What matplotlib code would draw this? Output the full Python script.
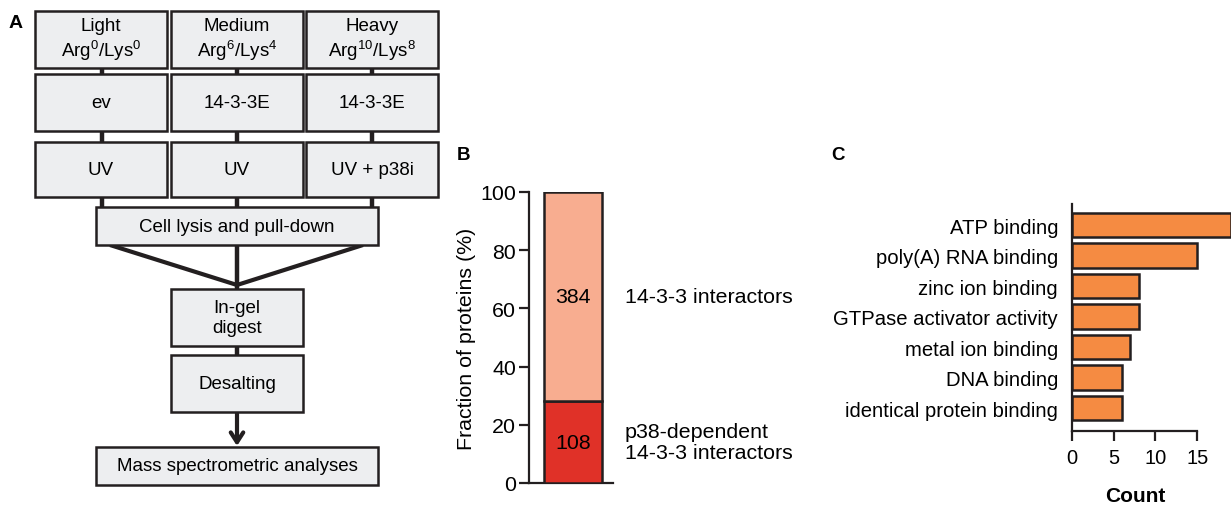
import matplotlib
matplotlib.use("Agg")
import matplotlib.pyplot as plt
from matplotlib.patches import Rectangle

plt.rcParams['font.family'] = ['Liberation Sans', 'DejaVu Sans']
plt.rcParams['mathtext.fontset'] = 'custom'
plt.rcParams['mathtext.rm'] = 'Liberation Sans'
plt.rcParams['mathtext.default'] = 'regular'

# ---- data ----
# panel A: workflow text
labels_label = ['Light\nArg$^{0}$/Lys$^{0}$', 'Medium\nArg$^{6}$/Lys$^{4}$', 'Heavy\nArg$^{10}$/Lys$^{8}$']
labels_construct = ['ev', '14-3-3E', '14-3-3E']
labels_treatment = ['UV', 'UV', 'UV + p38i']
steps = ['Cell lysis and pull-down', 'In-gel\ndigest', 'Desalting', 'Mass spectrometric analyses']

# panel B: stacked fraction
fraction_labels = ['p38-dependent\n14-3-3 interactors', '14-3-3 interactors']
fraction_counts = [108, 384]
fraction_values = [108 / 384 * 100, 100 - 108 / 384 * 100]
fraction_colors = ['#E03128', '#F8AD90']

# panel C: GO terms
go_terms = ['ATP binding', 'poly(A) RNA binding', 'zinc ion binding', 'GTPase activator activity',
            'metal ion binding', 'DNA binding', 'identical protein binding']
go_counts = [19, 15, 8, 8, 7, 6, 6]

W, H = 1231, 506
EDGE = '#231F20'
fig = plt.figure(figsize=(W / 100, H / 100), dpi=100)


def rect(l, t, r, b):
    return [l / W, 1 - b / H, (r - l) / W, (b - t) / H]


# ---- panel A ----
axA = fig.add_axes([0, 0, 1, 1])
axA.set_xlim(0, W)
axA.set_ylim(H, 0)
axA.axis('off')
axA.patch.set_alpha(0)

fs_a = 13.5
col_x = [(35, 167), (171, 303), (306, 438)]
row_y = [(12, 69), (75, 132), (143, 198)]


def box(l, t, r, b, text):
    axA.add_patch(Rectangle((l, t), r - l, b - t, facecolor='#EDEEF0', edgecolor=EDGE, lw=1.8, zorder=3))
    axA.text((l + r) / 2, (t + b) / 2, text, ha='center', va='center', fontsize=fs_a,
             linespacing=1.25, zorder=4)


for row, texts in zip(row_y, [labels_label, labels_construct, labels_treatment]):
    for (l, r), txt in zip(col_x, texts):
        box(l, row[0], r, row[1], txt)

conn_x = [102, 237, 372]
for x in conn_x:
    for (t0, b0), (t1, b1) in zip(row_y[:-1], row_y[1:]):
        axA.plot([x, x], [b0, t1], color=EDGE, lw=3.2, zorder=2)
    axA.plot([x, x], [row_y[-1][1], 208], color=EDGE, lw=3.2, zorder=2)

box(96, 208, 378, 246, steps[0])
# funnel
axA.plot([110, 237], [246, 286], color=EDGE, lw=3, zorder=2, solid_capstyle='butt')
axA.plot([363, 237], [246, 286], color=EDGE, lw=3, zorder=2, solid_capstyle='butt')
axA.plot([237, 237], [246, 290], color=EDGE, lw=3.2, zorder=2)
box(171, 290, 303, 347, steps[1])
axA.plot([237, 237], [347, 356], color=EDGE, lw=3.2, zorder=2)
box(171, 356, 303, 413, steps[2])
axA.annotate('', xy=(237, 447), xytext=(237, 413),
             arrowprops=dict(arrowstyle='->,head_length=0.7,head_width=0.45', color=EDGE, lw=3,
                             shrinkA=0, shrinkB=0), zorder=2)
box(96, 448, 378, 486, steps[3])

# panel letters
fig.text(16 / W, 1 - 23 / H, 'A', fontsize=14, fontweight='bold', ha='center', va='center')
fig.text(464 / W, 1 - 156 / H, 'B', fontsize=13.5, fontweight='bold', ha='center', va='center')
fig.text(838 / W, 1 - 156 / H, 'C', fontsize=13.5, fontweight='bold', ha='center', va='center')

# ---- panel B ----
fs_b = 15.4
axB = fig.add_axes(rect(529, 193, 613, 484))
bottom = 0
for val, cnt, lab, col in zip(fraction_values, fraction_counts, fraction_labels, fraction_colors):
    axB.bar(0, val, bottom=bottom, width=1, color=col, edgecolor=EDGE, lw=1.8, zorder=3)
    mid = bottom + val / 2
    axB.text(0, mid, str(cnt), ha='center', va='center', fontsize=fs_b, zorder=4)
    axB.annotate(lab, xy=(0.5, mid), xytext=(23, 0), textcoords='offset pixels',
                 ha='left', va='center', fontsize=fs_b, linespacing=1.15, annotation_clip=False)
    bottom += val
axB.set_xlim(-0.7586, 0.6897)
axB.set_ylim(0, 100)
axB.set_yticks([0, 20, 40, 60, 80, 100])
axB.set_xticks([])
for s in ['top', 'right']:
    axB.spines[s].set_visible(False)
for s in ['left', 'bottom']:
    axB.spines[s].set_linewidth(1.6)
    axB.spines[s].set_color(EDGE)
axB.tick_params(axis='y', length=7.2, width=1.6, labelsize=fs_b, pad=2, color=EDGE)
axB.set_ylabel('Fraction of proteins (%)', fontsize=fs_b)
axB.yaxis.set_label_coords(-(529 - 466) / 84, 0.5)
axB.yaxis.label.set_va('center')
axB.patch.set_alpha(0)

# ---- panel C ----
fs_c = 14.6
axC = fig.add_axes(rect(1072, 205, 1231, 432))
ypos = list(range(len(go_terms)))
axC.barh(ypos, go_counts, height=0.8, color='#F58B42', edgecolor=EDGE, lw=1.8, zorder=3)
axC.set_yticks(ypos)
axC.set_yticklabels(go_terms, fontsize=fs_c)
axC.set_ylim(6.75, -0.69)
axC.set_xlim(0, 19.05)
axC.set_xticks([0, 5, 10, 15])
for s in ['top', 'right']:
    axC.spines[s].set_visible(False)
for s in ['left', 'bottom']:
    axC.spines[s].set_linewidth(1.6)
    axC.spines[s].set_color(EDGE)
axC.spines['bottom'].set_bounds(0, 15)
axC.tick_params(axis='y', length=0, pad=10)
axC.tick_params(axis='x', length=7.2, width=1.6, labelsize=14.5, pad=5, color=EDGE)
axC.patch.set_alpha(0)
fig.text(1135 / W, 1 - 497 / H, 'Count', fontsize=15, fontweight='bold', ha='center', va='center')

fig.savefig('out.png', dpi=100)
